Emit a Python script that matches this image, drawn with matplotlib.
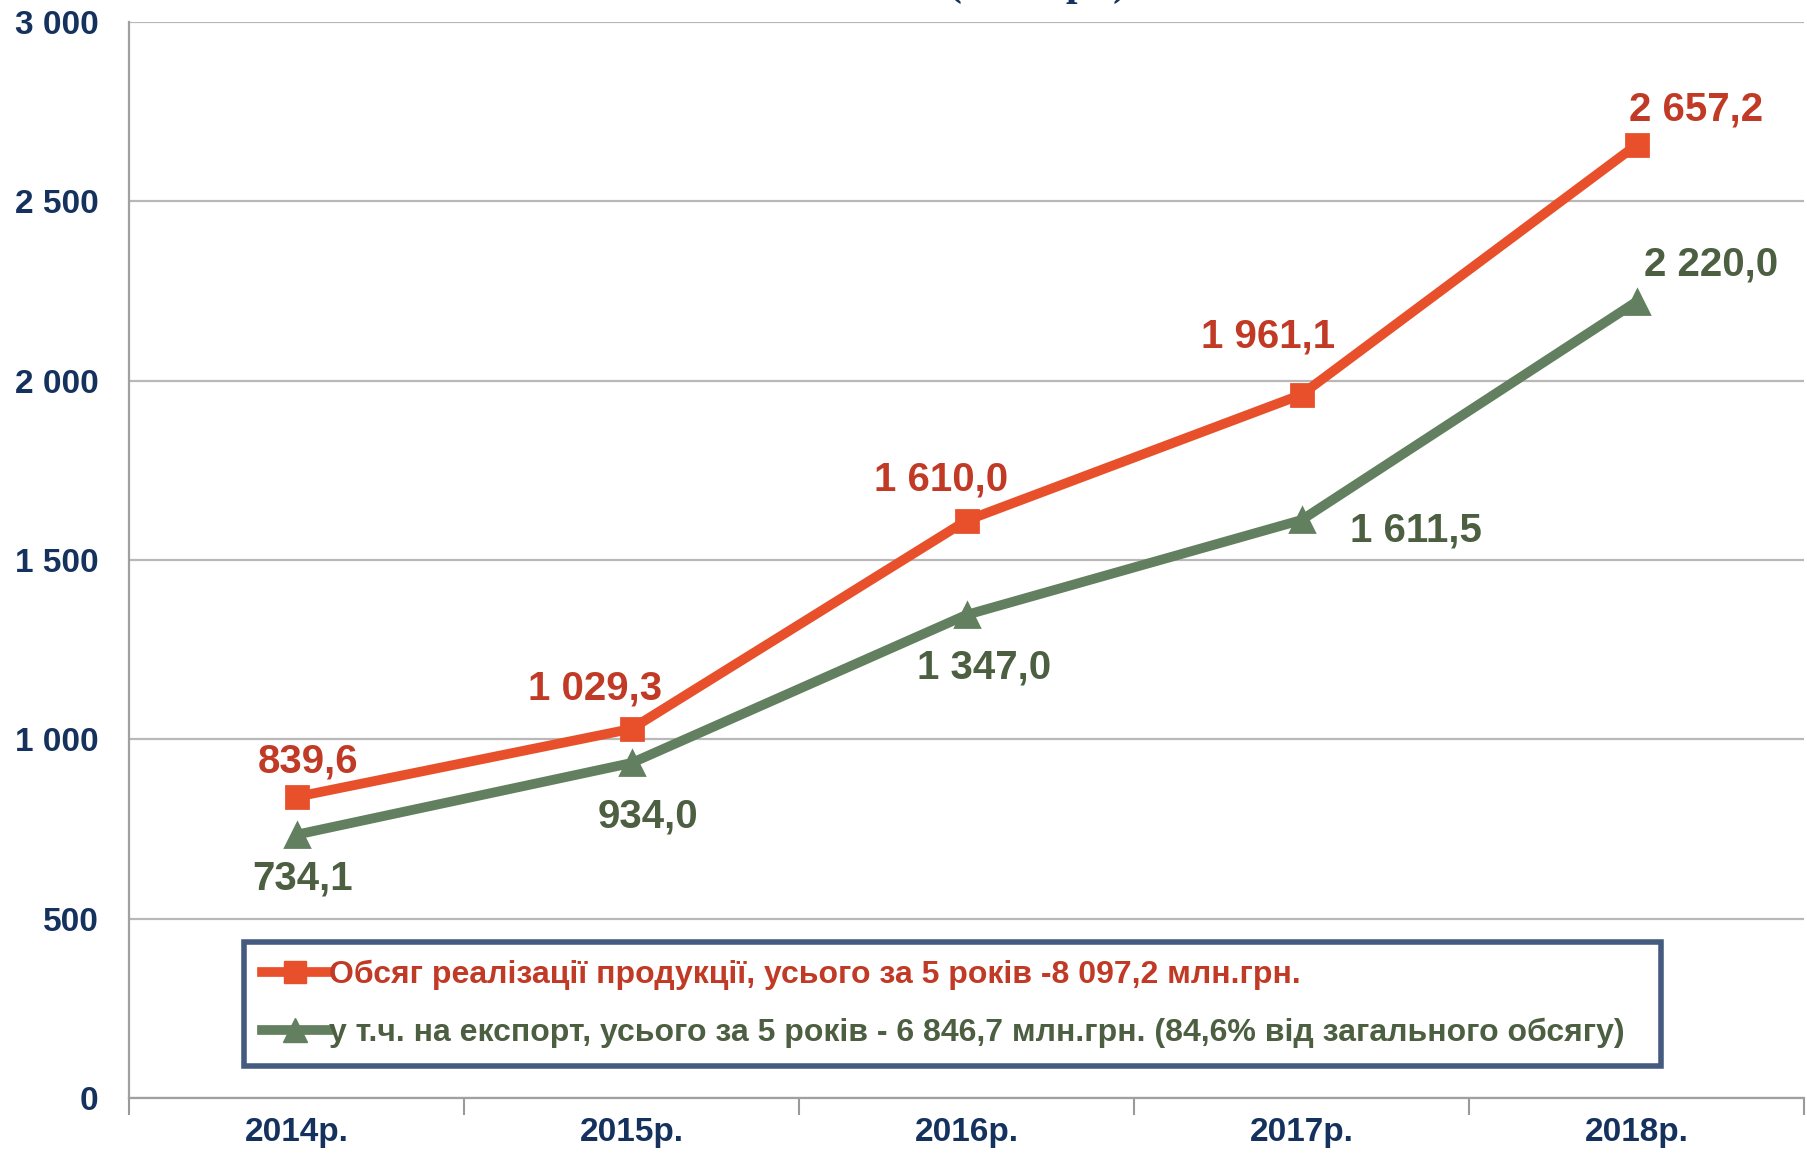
import matplotlib
matplotlib.use("Agg")
import matplotlib.pyplot as plt
from matplotlib.lines import Line2D

years = ["2014р.", "2015р.", "2016р.", "2017р.", "2018р."]
total_sales = [839.6, 1029.3, 1610.0, 1961.1, 2657.2]
export_sales = [734.1, 934.0, 1347.0, 1611.5, 2220.0]
total_labels = ["839,6", "1 029,3", "1 610,0", "1 961,1", "2 657,2"]
export_labels = ["734,1", "934,0", "1 347,0", "1 611,5", "2 220,0"]
y_ticks = [0, 500, 1000, 1500, 2000, 2500, 3000]
y_tick_labels = ["0", "500", "1 000", "1 500", "2 000", "2 500", "3 000"]
legend_total = "Обсяг реалізації продукції, усього за 5 років -8 097,2 млн.грн."
legend_export = "у т.ч. на експорт, усього за 5 років - 6 846,7 млн.грн. (84,6% від загального обсягу)"
title_text = "(млн.грн)"

NAVY = "#15325f"
RED_LINE = "#e8502c"
RED_TEXT = "#c13a26"
GREEN_LINE = "#62805f"
GREEN_TEXT = "#4c5f41"
NARROW = ['Liberation Sans Narrow', 'Liberation Sans', 'DejaVu Sans']

plt.rcParams['font.family'] = ['Liberation Sans', 'DejaVu Sans']

fig = plt.figure(figsize=(18.07, 11.53), dpi=100)
ax = fig.add_axes([129/1807, 1 - 1098/1153, (1804-129)/1807, (1098-22)/1153])

x = list(range(len(years)))
ax.plot(x, total_sales, color=RED_LINE, lw=7, marker='s', ms=16,
        mfc=RED_LINE, mec=RED_LINE, mew=2, solid_capstyle='round', zorder=4)
ax.plot(x, export_sales, color=GREEN_LINE, lw=7, marker='^', ms=17,
        mfc=GREEN_LINE, mec=GREEN_LINE, mew=2, solid_capstyle='round', zorder=3)

red_off = [(12, 35), (-36, 40), (-25, 41), (-33, 58), (60, 35)]
green_off = [(6, -44), (16, -53), (18, -53), (114, -10), (75, 37)]
for i in x:
    ax.annotate(total_labels[i], (i, total_sales[i]), xytext=red_off[i],
                textcoords='offset pixels', ha='center', va='center',
                fontsize=29, fontweight='bold', color=RED_TEXT, zorder=6)
    ax.annotate(export_labels[i], (i, export_sales[i]), xytext=green_off[i],
                textcoords='offset pixels', ha='center', va='center',
                fontsize=29, fontweight='bold', color=GREEN_TEXT, zorder=6)

ax.set_xlim(-0.5, 4.5)
ax.set_ylim(0, 3000)
ax.set_yticks(y_ticks)
ax.set_yticklabels(y_tick_labels, fontsize=24, fontweight='bold', color=NAVY,
                   family=NARROW)
ax.tick_params(axis='y', length=0, pad=22)

ax.set_xticks([i - 0.5 for i in range(len(years) + 1)])
ax.set_xticklabels([])
ax.set_xticks(x, minor=True)
ax.set_xticklabels(years, minor=True, fontsize=24, fontweight='bold', color=NAVY,
                   family=NARROW)
ax.tick_params(axis='x', which='major', length=12, color='#9a9a9a', width=1.5, direction='out')
ax.tick_params(axis='x', which='minor', length=0, pad=14)

ax.grid(axis='y', color='#b8b8b8', lw=1.6)
ax.set_axisbelow(True)
for s in ['top', 'right']:
    ax.spines[s].set_visible(False)
for s in ['left', 'bottom']:
    ax.spines[s].set_color('#a0a0a0')
    ax.spines[s].set_linewidth(1.6)

handles = [
    Line2D([], [], color=RED_LINE, lw=7, marker='s', ms=16, mfc=RED_LINE, mec=RED_LINE),
    Line2D([], [], color=GREEN_LINE, lw=7, marker='^', ms=17, mfc=GREEN_LINE, mec=GREEN_LINE),
]
leg = ax.legend(handles, [legend_total, legend_export], loc='lower left',
                bbox_to_anchor=((244-129)/1675, (1098-1066)/1076, (1661-244)/1675, (1066-939)/1076),
                mode='expand', borderaxespad=0, frameon=True, fancybox=False,
                handlelength=2.1, handletextpad=0.0, labelspacing=0.86, borderpad=0.56,
                prop={'family': NARROW, 'weight': 'bold', 'size': 23})
leg.get_frame().set_edgecolor(NAVY)
leg.get_frame().set_linewidth(4)
leg.get_texts()[0].set_color(RED_TEXT)
leg.get_texts()[1].set_color(GREEN_TEXT)

fig.text(1037/1807, 1 + 5/1153, title_text, ha='center', va='baseline',
         fontsize=30, fontweight='bold', color=NAVY, family='Liberation Serif')

fig.savefig("out.png", dpi=100)
